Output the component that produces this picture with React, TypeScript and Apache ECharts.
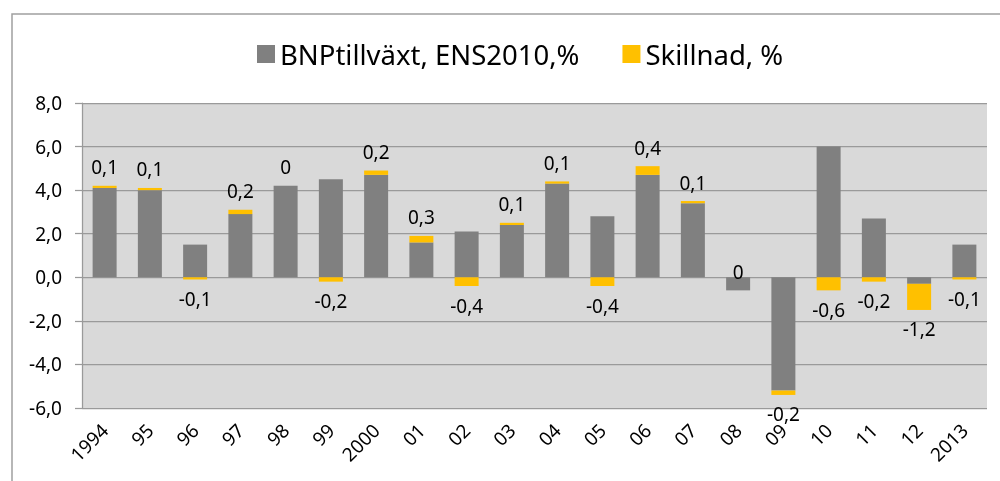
import React, { useEffect, useRef } from "react";
import * as echarts from "echarts";

const categories = ["1994", "95", "96", "97", "98", "99", "2000", "01", "02", "03", "04", "05", "06", "07", "08", "09", "10", "11", "12", "2013"];
const bnpGrowth = [4.1, 4.0, 1.5, 2.9, 4.2, 4.5, 4.7, 1.6, 2.1, 2.4, 4.3, 2.8, 4.7, 3.4, -0.6, -5.2, 6.0, 2.7, -0.3, 1.5];
const difference = [0.1, 0.1, -0.1, 0.2, 0, -0.2, 0.2, 0.3, -0.4, 0.1, 0.1, -0.4, 0.4, 0.1, 0, -0.2, -0.6, -0.2, -1.2, -0.1];
const seriesNames = ["BNPtillväxt, ENS2010,%", "Skillnad, %"];
const yMin = -6;
const yMax = 8;
const yInterval = 2;

const FONT = "Noto Sans";
const fmtComma = (v: number) => String(v).replace(".", ",");

export default function App() {
  const ref = useRef<HTMLDivElement>(null);
  useEffect(() => {
    if (!ref.current) return;
    const chart = echarts.init(ref.current, undefined, { renderer: "svg" });
    chart.setOption({
      animation: false,
      textStyle: { fontFamily: FONT },
      graphic: [
        {
          type: "rect",
          shape: { x: 12, y: 14, width: 1100, height: 600 },
          style: { fill: "none", stroke: "#a0a0a0", lineWidth: 1.5 },
          silent: true,
        },
      ],
      legend: {
        left: 252,
        top: 35,
        itemWidth: 18,
        itemHeight: 18,
        itemGap: 43,
        icon: "rect",
        textStyle: { fontFamily: FONT, fontSize: 27.5, color: "#000" },
        data: seriesNames,
      },
      grid: {
        left: 82,
        right: 13,
        top: 103,
        bottom: 73,
        show: true,
        backgroundColor: "#D9D9D9",
        borderWidth: 0,
      },
      xAxis: {
        type: "category",
        data: categories,
        axisLine: { show: false },
        axisTick: { show: false },
        axisLabel: {
          rotate: 45,
          margin: 19,
          interval: 0,
          fontFamily: FONT,
          fontSize: 19,
          color: "#000",
        },
      },
      yAxis: {
        type: "value",
        min: yMin,
        max: yMax,
        interval: yInterval,
        axisLine: { show: true, lineStyle: { color: "#9a9a9a", width: 1.25 } },
        axisTick: { show: true, length: 7, lineStyle: { color: "#9a9a9a", width: 1.25 } },
        splitLine: { show: true, lineStyle: { color: "#9a9a9a", width: 1.25 } },
        axisLabel: {
          margin: 20,
          fontFamily: FONT,
          fontSize: 19,
          color: "#000",
          formatter: (v: number) => v.toFixed(1).replace(".", ","),
        },
      },
      series: [
        {
          name: seriesNames[0],
          type: "bar",
          stack: "total",
          barWidth: 24,
          itemStyle: { color: "#808080" },
          data: bnpGrowth,
        },
        {
          name: seriesNames[1],
          type: "bar",
          stack: "total",
          barWidth: 24,
          itemStyle: { color: "#FFC000" },
          data: difference.map((v) => ({
            value: v,
            label: {
              show: true,
              position: v < 0 ? "bottom" : "top",
              distance: v < 0 ? 10 : 9,
            },
          })),
          label: {
            show: true,
            fontFamily: FONT,
            fontSize: 19,
            color: "#000",
            formatter: (p: any) => fmtComma(p.value),
          },
        },
      ],
    });
    return () => chart.dispose();
  }, []);
  return <div ref={ref} style={{ position: "fixed", left: 0, top: 0, width: 1000, height: 481 }} />;
}
